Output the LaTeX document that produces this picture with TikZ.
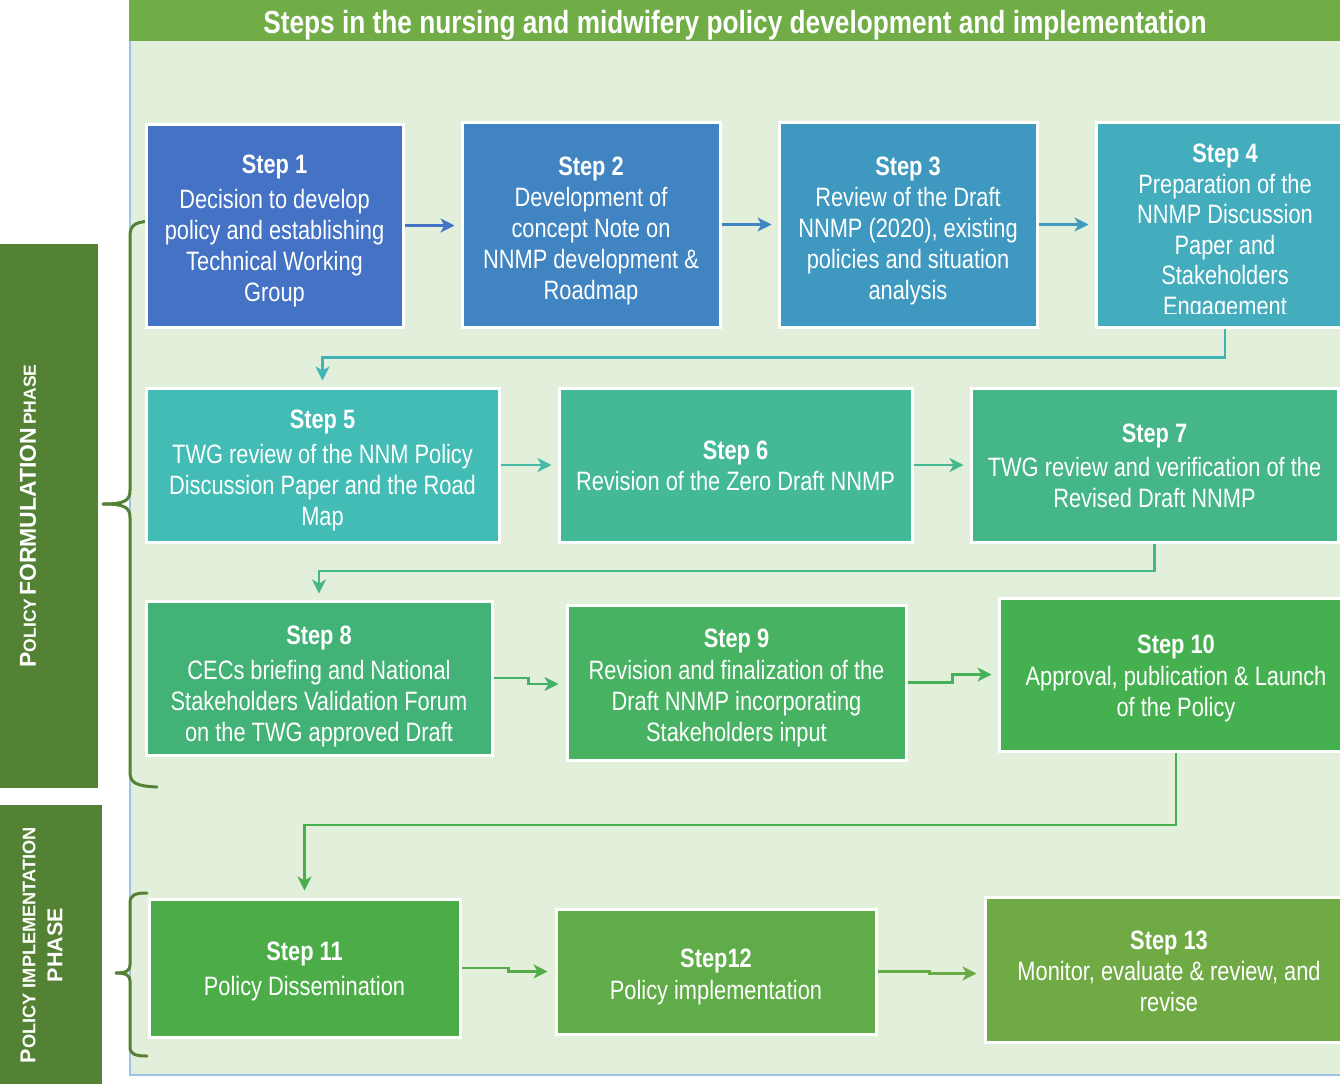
\documentclass[tikz,border=0pt]{standalone}
\usepackage{fontspec}
\setmainfont{Liberation Sans}[FakeStretch=0.82]
\newfontfamily\widefont{Liberation Sans}
\usetikzlibrary{arrows.meta,calc}
\definecolor{panel}{HTML}{E2EFDA}
\definecolor{panelborder}{HTML}{9DC3E6}
\definecolor{titlebar}{HTML}{70AD47}
\definecolor{phase}{HTML}{548235}
\definecolor{cA}{HTML}{4472C4}
\definecolor{cB}{HTML}{4084C2}
\definecolor{cC}{HTML}{3E98C0}
\definecolor{cD}{HTML}{43ADBE}
\definecolor{cE}{HTML}{43BCB5}
\definecolor{cF}{HTML}{44B998}
\definecolor{cG}{HTML}{45B687}
\definecolor{cH}{HTML}{43B276}
\definecolor{cI}{HTML}{46B262}
\definecolor{cJ}{HTML}{45B050}
\definecolor{cK}{HTML}{4CAD48}
\definecolor{cL}{HTML}{5FAC48}
\definecolor{cM}{HTML}{70AA45}
\newcommand\phbig[1]{{\fontsize{23}{23}\selectfont #1}}
\newcommand\phsmall[1]{{\fontsize{17.5}{17.5}\selectfont #1}}
\newcommand\phbigb[1]{{\fontsize{21.5}{27}\selectfont #1}}
\newcommand\phsmallb[1]{{\fontsize{18.2}{27}\selectfont #1}}
\begin{document}
\begin{tikzpicture}[x=1pt,y=-1pt,
  stepbox/.style={rectangle, draw=white, line width=3pt, inner sep=0pt},
  steptext/.style={text=white, align=center, inner sep=0pt, font=\fontsize{26.6}{31}\selectfont},
  arr/.style={line width=2.5pt, -{Stealth[length=14pt,width=14pt,inset=4pt]}},
  bracepath/.style={draw=phase, line width=3pt, line cap=round}
]
\clip (0,0) rectangle (1340,1084);
\fill[white] (0,0) rectangle (1340,1084);

% panel and title bar
\fill[panel] (130,40) rectangle (1340,1076);
\draw[panelborder, line width=2pt] (130,40) -- (130,1075) -- (1340,1075);
\fill[titlebar] (129,0) rectangle (1340,41);
\node[text=white, font=\fontsize{32}{32}\selectfont\bfseries] (title) at (735,25)
  {Steps in the nursing and midwifery policy development and implementation};

% phase boxes
\fill[phase] (0,244) rectangle (98,788);
\fill[phase] (0,805) rectangle (102,1084);
\node[rotate=90, text=white, font=\widefont\bfseries] (formlabel) at (28,516)
  {\phbig{P}\phsmall{OLICY} \phbig{FORMULATION} \phsmall{PHASE}};
\node[rotate=90, text=white, font=\widefont\bfseries\fontsize{20}{27}\selectfont, align=center] (implabel) at (41.5,945)
  {\phbigb{P}\phsmallb{OLICY IMPLEMENTATION}\\\phbigb{PHASE}};

% braces
\draw[bracepath] (157,221) .. controls (136,221) and (130,224) .. (130,236) -- (130,490)
  .. controls (130,500) and (126,504) .. (103,504);
\draw[bracepath] (103,504) .. controls (126,504) and (130,508) .. (130,518) -- (130,772)
  .. controls (130,783) and (136,786) .. (157,787);
\draw[bracepath] (147,893) .. controls (135,893) and (130,895) .. (130,903) -- (130,965)
  .. controls (130,970) and (127,973) .. (116,973);
\draw[bracepath] (116,973) .. controls (127,973) and (130,976) .. (130,981) -- (130,1047)
  .. controls (130,1054) and (135,1056) .. (147,1056);

% row 1
\node[stepbox, fill=cA, minimum width=257, minimum height=203] (s1) at (274.5,225.5) {};
\node[steptext] (s1t) at ($(s1)+(0,5)$)
  {\textbf{Step 1}\\[4pt]Decision to develop\\policy and establishing\\Technical Working\\Group};
\node[stepbox, fill=cB, minimum width=258, minimum height=205] (s2) at (591,224.5) {};
\node[steptext] (s2t) at ($(s2)+(0,6)$)
  {\textbf{Step 2}\\Development of\\concept Note on\\NNMP development \&\\Roadmap};
\node[stepbox, fill=cC, minimum width=258, minimum height=205] (s3) at (908,224.5) {};
\node[steptext] (s3t) at ($(s3)+(0,6)$)
  {\textbf{Step 3}\\Review of the Draft\\NNMP (2020), existing\\policies and situation\\analysis};
\node[stepbox, fill=cD, minimum width=258, minimum height=205] (s4) at (1225,224.5) {};
\begin{scope}
  \clip (1096,122) rectangle (1354,313);
  \node[steptext, font=\fontsize{26.6}{30.6}\selectfont] (s4t) at ($(s4)+(0,8)$)
    {\textbf{Step 4}\\Preparation of the\\NNMP Discussion\\Paper and\\Stakeholders\\Engagement};
\end{scope}

% row 2
\node[stepbox, fill=cE, minimum width=353, minimum height=154] (s5) at (322.5,465) {};
\node[steptext] (s5t) at ($(s5)+(0,5)$)
  {\textbf{Step 5}\\[4pt]TWG review of the NNM Policy\\Discussion Paper and the Road\\Map};
\node[stepbox, fill=cF, minimum width=353, minimum height=154] (s6) at (735.5,465) {};
\node[steptext] (s6t) at ($(s6)+(0,1)$)
  {\textbf{Step 6}\\Revision of the Zero Draft NNMP};
\node[stepbox, fill=cG, minimum width=367, minimum height=154] (s7) at (1154.5,465) {};
\node[steptext] (s7t) at ($(s7)+(0,1)$)
  {\textbf{Step 7}\\[3pt]TWG review and verification of the\\Revised Draft NNMP};

% row 3
\node[stepbox, fill=cH, minimum width=346, minimum height=154] (s8) at (319,678) {};
\node[steptext] (s8t) at ($(s8)+(0,8)$)
  {\textbf{Step 8}\\[4pt]CECs briefing and National\\Stakeholders Validation Forum\\on the TWG approved Draft};
\node[stepbox, fill=cI, minimum width=339, minimum height=155] (s9) at (736.5,682.5) {};
\node[steptext] (s9t) at ($(s9)+(0,5)$)
  {\textbf{Step 9}\\[1pt]Revision and finalization of the\\Draft NNMP incorporating\\Stakeholders input};
\node[stepbox, fill=cJ, minimum width=354, minimum height=153] (s10) at (1176,674.5) {};
\node[steptext] (s10t) at ($(s10)+(0,4)$)
  {\textbf{Step 10}\\[1pt]Approval, publication \& Launch\\of the Policy};

% row 4
\node[stepbox, fill=cK, minimum width=311, minimum height=138] (s11) at (304.5,968) {};
\node[steptext] (s11t) at ($(s11)+(0,3)$)
  {\textbf{Step 11}\\[4pt]Policy Dissemination};
\node[stepbox, fill=cL, minimum width=320, minimum height=125] (s12) at (716,971.5) {};
\node[steptext] (s12t) at ($(s12)+(0,5)$)
  {\textbf{Step12}\\[1pt]Policy implementation};
\node[stepbox, fill=cM, minimum width=368, minimum height=145] (s13) at (1169,969.5) {};
\node[steptext] (s13t) at ($(s13)+(0,2)$)
  {\textbf{Step 13}\\Monitor, evaluate \& review, and\\revise};

% connectors
\draw[arr, cA] (s1.east) -- ($(s2.west|-s1.east)+(-6,0)$);
\draw[arr, cB] (s2.east) -- ($(s3.west|-s2.east)+(-6,0)$);
\draw[arr, cC!85!cD] (s3.east) -- ($(s4.west|-s3.east)+(-6,0)$);
\draw[arr, cD!60!cE] (s4.south) |- ($(s5.north)+(0,-29)$) -- ($(s5.north)+(0,-6)$);
\draw[arr, cE!50!cF] (s5.east) -- ($(s6.west)+(-6,0)$);
\draw[arr, cF!50!cG] (s6.east) -- ($(s7.west)+(-6,0)$);
\draw[arr, cG] (s7.south) |- ($(s8.north)+(0,-28.5)$) -- ($(s8.north)+(0,-6)$);
\draw[arr, cH!50!cI] (s8.east) -- ++(35,0) |- ($(s9.west)+(-7,1.5)$);
\draw[arr, cI!50!cJ] (s9.east) -- ++(45,0) |- ($(s10.west)+(-6,0)$);
\draw[arr, cJ!60!cK] (s10.south) |- ($(s11.north)+(0,-72.5)$) -- ($(s11.north)+(0,-7)$);
\draw[arr, cK!50!cL] (s11.east) -- ++(47,0) |- ($(s12.west)+(-7,0)$);
\draw[arr, cL!50!cM] (s12.east) -- ++(52,0) |- ($(s13.west)+(-7,4)$);
\end{tikzpicture}
\end{document}
